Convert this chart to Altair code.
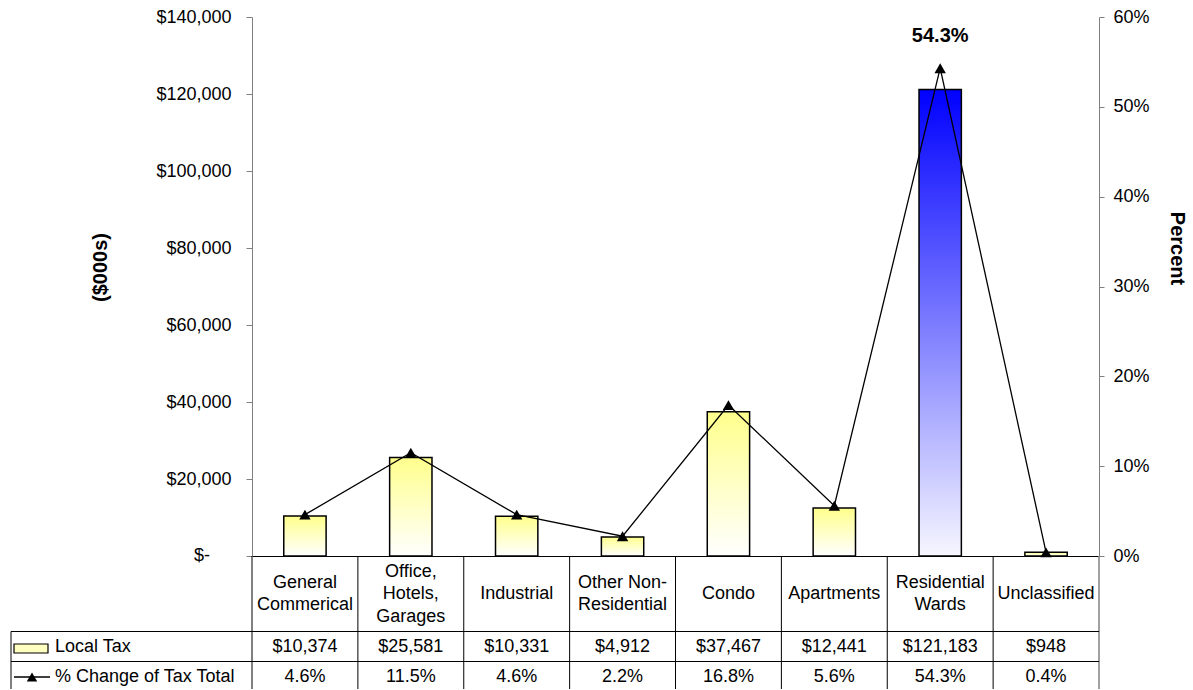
import altair as alt
import pandas as pd

cats = ["General Commerical", "Office, Hotels, Garages", "Industrial", "Other Non-Residential",
        "Condo", "Apartments", "Residential Wards", "Unclassified"]
labels = ["General\nCommerical", "Office,\nHotels,\nGarages", "Industrial", "Other Non-\nResidential",
          "Condo", "Apartments", "Residential\nWards", "Unclassified"]
tax = [10374, 25581, 10331, 4912, 37467, 12441, 121183, 948]
pct = [0.046, 0.115, 0.046, 0.022, 0.168, 0.056, 0.543, 0.004]
tax_ticks = [0, 20000, 40000, 60000, 80000, 100000, 120000, 140000]
pct_ticks = [0, 0.1, 0.2, 0.3, 0.4, 0.5, 0.6]

df = pd.DataFrame({"cat": cats, "label": labels, "tax": tax, "pct": pct})
one = pd.DataFrame({"a": [0]})

FONT = "Liberation Sans"
W, H = 847, 539
LH = 22.5
HDR_CENTER = 577

xscale = alt.Scale(paddingInner=0, paddingOuter=0)
xaxis = alt.Axis(labels=False, ticks=False, domainColor="black", grid=False, title=None)
X = alt.X("cat:N", sort=cats, scale=xscale, axis=xaxis)

left_axis = alt.Axis(
    values=tax_ticks, grid=False, tickSize=6, labelPadding=15,
    domainColor="#808080", tickColor="#808080",
    labelExpr="datum.value == 0 ? '' : '$' + format(datum.value, ',')",
    labelFont=FONT, labelFontSize=18, labelColor="black",
    title="($000s)", titleFont=FONT, titleFontSize=20, titleFontWeight="bold",
    titleColor="black", titleAngle=-90, titleX=-152, titleY=250, titleBaseline="middle",
)
right_axis = alt.Axis(
    orient="right", values=pct_ticks, format=".0%", grid=False, tickSize=5, labelPadding=9,
    domainColor="#808080", tickColor="#808080",
    labelFont=FONT, labelFontSize=18, labelColor="black",
    title="Percent", titleFont=FONT, titleFontSize=20, titleFontWeight="bold",
    titleColor="black", titleAngle=90, titleX=77, titleY=231, titleBaseline="middle",
)

Ytax = alt.Y("tax:Q", scale=alt.Scale(domain=[0, 140000]), axis=left_axis)
Ypct = alt.Y("pct:Q", scale=alt.Scale(domain=[0, 0.6]), axis=right_axis)

yellow_grad = alt.Gradient(gradient="linear",
                           stops=[alt.GradientStop(color="#FFFF8C", offset=0),
                                  alt.GradientStop(color="#FFFFFF", offset=1)],
                           x1=0, x2=0, y1=0, y2=1)
blue_grad = alt.Gradient(gradient="linear",
                         stops=[alt.GradientStop(color="#0000FF", offset=0),
                                alt.GradientStop(color="#F6F6FF", offset=1)],
                         x1=0, x2=0, y1=0, y2=1)

base = alt.Chart(df)
bars_y = base.mark_bar(color=yellow_grad, stroke="black", strokeWidth=1.5,
                       width=alt.RelativeBandSize(0.4)).encode(x=X, y=Ytax).transform_filter(
    "datum.cat != 'Residential Wards'")
bars_b = base.mark_bar(color=blue_grad, stroke="black", strokeWidth=1.5,
                       width=alt.RelativeBandSize(0.4)).encode(x=X, y=Ytax).transform_filter(
    "datum.cat == 'Residential Wards'")
zero_lbl = alt.Chart(one).mark_text(font=FONT, fontSize=18, align="right", baseline="middle",
                                    color="black", text="$-").encode(
    x=alt.value(-42), y=alt.Y(datum=0, scale=alt.Scale(domain=[0, 140000]), axis=left_axis))
left_group = alt.layer(bars_y, bars_b, zero_lbl)

line = base.mark_line(color="black", strokeWidth=1.3).encode(x=X, y=Ypct)
pts = base.mark_point(shape="triangle-up", filled=True, color="black", size=130, opacity=1).encode(x=X, y=Ypct)
peak = base.mark_text(font=FONT, fontSize=20, fontWeight="bold", dy=-32, color="black").encode(
    x=X, y=Ypct, text=alt.Text("pct:Q", format=".1%")).transform_filter("datum.cat == 'Residential Wards'")
right_group = alt.layer(line, pts, peak)

# data table
vlines = base.mark_rule(color="black", strokeWidth=1).encode(
    x=alt.X("cat:N", sort=cats, bandPosition=0), y=alt.value(H), y2=alt.value(672))
right_border = alt.Chart(one).mark_rule(color="#808080", strokeWidth=1.5).encode(
    x=alt.value(W), y=alt.value(H), y2=alt.value(672))
hline1 = alt.Chart(one).mark_rule(color="black", strokeWidth=1).encode(
    x=alt.value(-241), x2=alt.value(W), y=alt.value(614.5))
hline2 = alt.Chart(one).mark_rule(color="black", strokeWidth=1).encode(
    x=alt.value(-241), x2=alt.value(W), y=alt.value(644.5))
lborder = alt.Chart(one).mark_rule(color="black", strokeWidth=1).encode(
    x=alt.value(-241), y=alt.value(614.5), y2=alt.value(672))

hdr_layers = []
for n in (1, 2, 3):
    hdr_layers.append(
        base.transform_calculate(n="split(datum.label, '\\n').length")
        .transform_filter(f"datum.n == {n}")
        .mark_text(font=FONT, fontSize=18, baseline="middle", lineBreak="\n", lineHeight=LH, color="black")
        .encode(x=alt.X("cat:N", sort=cats), y=alt.value(HDR_CENTER - (n - 1) * LH / 2), text="label:N")
    )
row1 = base.mark_text(font=FONT, fontSize=18, baseline="middle", color="black").encode(
    x=alt.X("cat:N", sort=cats), y=alt.value(630), text=alt.Text("tax:Q", format="$,.0f"))
row2 = base.mark_text(font=FONT, fontSize=18, baseline="middle", color="black").encode(
    x=alt.X("cat:N", sort=cats), y=alt.value(660), text=alt.Text("pct:Q", format=".1%"))

sw1 = alt.Chart(one).mark_rect(fill="#FFFFC0", stroke="black", strokeWidth=1.2).encode(
    x=alt.value(-238), x2=alt.value(-204), y=alt.value(627), y2=alt.value(636))
sw2 = alt.Chart(one).mark_rule(color="black", strokeWidth=1.3).encode(
    x=alt.value(-238), x2=alt.value(-202), y=alt.value(660))
sw2p = alt.Chart(one).mark_point(shape="triangle-up", filled=True, color="black", size=110, opacity=1).encode(
    x=alt.value(-220), y=alt.value(660))
lt1 = alt.Chart(one).mark_text(font=FONT, fontSize=18, align="left", baseline="middle", color="black",
                               text="Local Tax").encode(x=alt.value(-197), y=alt.value(630))
lt2 = alt.Chart(one).mark_text(font=FONT, fontSize=18, align="left", baseline="middle", color="black",
                               text="% Change of Tax Total").encode(x=alt.value(-197), y=alt.value(660))

chart = alt.layer(
    left_group, right_group, vlines, right_border, hline1, hline2, lborder,
    *hdr_layers, row1, row2, sw1, sw2, sw2p, lt1, lt2
).resolve_scale(y="independent").properties(
    width=W, height=H,
    padding={"left": 10, "top": 8, "right": 5, "bottom": 0},
    background="white",
).configure_view(stroke=None)

chart.save("out.html", embed_options={"renderer": "svg", "actions": False})
